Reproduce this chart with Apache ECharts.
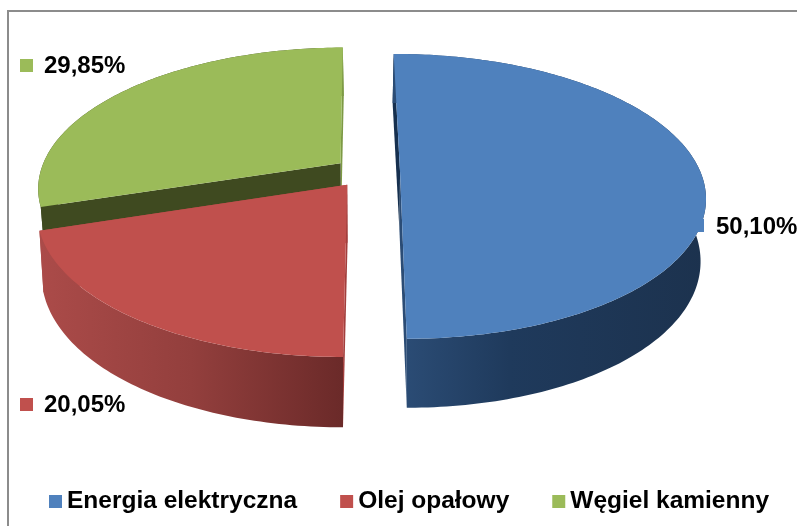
<!DOCTYPE html>
<html>
<head>
<meta charset="utf-8">
<style>html,body{margin:0;padding:0;background:#fff}#c{width:797px;height:526px}</style>
<script src="https://cdn.jsdelivr.net/npm/echarts@6/dist/echarts.min.js"></script>
</head>
<body>
<div id="c"></div>
<script>
const categories = ['Energia elektryczna', 'Olej opałowy', 'Węgiel kamienny'];
const shares = [50.10, 20.05, 29.85];
const topColors = ['#4f81bd', '#c0504d', '#9bbb59'];

// projection of the tilted pie (layout only)
const P = {X0: 367, Y0: 172.2, A: 300.5, B: 138.3, k: 0.17, kx: 0.17, e: 0.11, s: -0.35, D: 57.3, c: 0.04};
const labelPos = [
  {mx: 691, my: 219, tx: 716, ty: 227},
  {mx: 20, my: 398, tx: 44, ty: 405},
  {mx: 20, my: 59, tx: 44, ty: 66}
];
const wallStops = [
  [[0, '#2b4c75'], [0.35, '#1f3a5c'], [1, '#1c324e']],
  [[0, '#ab4b49'], [0.5, '#933f3d'], [1, '#6b2a29']],
  [[0, '#3f4a20'], [0.9, '#3f4a20'], [0.91, '#7d9a45'], [1, '#7d9a45']]
];
const wallRange = [[404, 705], [40, 342], [40, 345]];
const sideColors = [['#16304f', '#2b4c75'], ['#a33f3d', '#ab4b49'], ['#3f4a20', '#7d9a45']];

const total = shares.reduce((a, b) => a + b, 0);
const ranges = [];
shares.reduce((acc, v) => { ranges.push([acc, acc + v / total * 360]); return acc + v / total * 360; }, P.s);

function proj(x, y, lower) {
  const d = 1 - P.k * y;
  let X = P.A * x / (1 - P.kx * y), Y = P.B * y / d;
  if (lower) {
    X *= 1 - P.c * (1 - y) / 2;
    Y += P.D / d;
  }
  return [P.X0 + X, P.Y0 + Y];
}

function sliceShapes(i) {
  const [t0, t1] = ranges[i];
  const mid = (t0 + t1) / 2 * Math.PI / 180;
  const ox = P.e * Math.sin(mid), oy = -P.e * Math.cos(mid);
  const rim = (t, lower) => {
    const a = t * Math.PI / 180;
    return proj(ox + Math.sin(a), oy - Math.cos(a), lower);
  };
  const arc = lower => {
    const pts = [];
    for (let t = t0; t < t1; t += 1) pts.push(rim(t, lower));
    pts.push(rim(t1, lower));
    return pts;
  };
  const apexU = proj(ox, oy, false), apexL = proj(ox, oy, true);
  const topArc = arc(false), lowArc = arc(true);
  const poly = (points, fill) => ({type: 'polygon', shape: {points}, style: {fill}, silent: true});
  const wallFill = new echarts.graphic.LinearGradient(wallRange[i][0], 0, wallRange[i][1], 0, wallStops[i].map(s => ({offset: s[0], color: s[1]})), true);
  const m = labelPos[i];
  return [
    poly([apexU, topArc[topArc.length - 1], lowArc[lowArc.length - 1], apexL], sideColors[i][1]),
    poly([apexU, topArc[0], lowArc[0], apexL], sideColors[i][0]),
    poly(topArc.concat(lowArc.slice().reverse()), wallFill),
    poly([apexU].concat(topArc), topColors[i]),
    {type: 'rect', shape: {x: m.mx, y: m.my, width: 13, height: 13}, style: {fill: topColors[i]}, silent: true},
    {type: 'text', x: m.tx, y: m.ty, silent: true, style: {
      text: shares[i].toFixed(2).replace('.', ',') + '%',
      fill: '#000', font: 'bold 24px "Liberation Sans"', textAlign: 'left', textVerticalAlign: 'middle'
    }}
  ];
}

const paintOrder = [2, 0, 1];
const chart = echarts.init(document.getElementById('c'), null, {renderer: 'canvas'});
chart.setOption({
  animation: false,
  backgroundColor: '#fff',
  graphic: [{type: 'rect', z: -1, shape: {x: 8, y: 11, width: 900, height: 700}, style: {fill: 'none', stroke: '#8c8c8c', lineWidth: 2}, silent: true}],
  legend: {
    left: 44, top: 484, icon: 'rect', itemWidth: 13, itemHeight: 13, itemGap: 43,
    data: categories,
    textStyle: {color: '#000', fontFamily: 'Liberation Sans', fontWeight: 'bold', fontSize: 24.5},
    selectedMode: false
  },
  series: paintOrder.map(i => ({
    type: 'custom',
    name: categories[i],
    coordinateSystem: 'none',
    itemStyle: {color: topColors[i]},
    data: [[shares[i]]],
    silent: true,
    renderItem: () => ({type: 'group', children: sliceShapes(i)})
  }))
});
</script>
</body>
</html>
